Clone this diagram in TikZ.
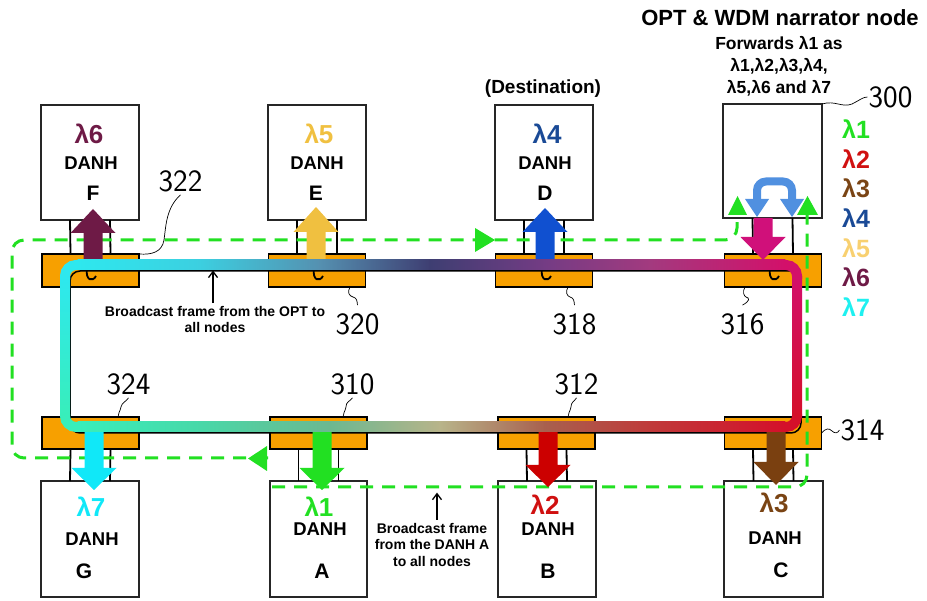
\documentclass[tikz,border=0pt]{standalone}
\usepackage{fontspec}
\setmainfont{Liberation Sans}
\usetikzlibrary{calc,arrows.meta}
\definecolor{orng}{HTML}{F7A000}
\definecolor{lamA}{HTML}{22E022}
\definecolor{lamB}{HTML}{D01010}
\definecolor{lamC}{HTML}{7A4414}
\definecolor{lamD}{HTML}{1A4A96}
\definecolor{lamE}{HTML}{F8D070}
\definecolor{lamF}{HTML}{6E1A46}
\definecolor{lamG}{HTML}{1EF0F0}
\definecolor{arrF}{HTML}{6E1A46}
\definecolor{arrE}{HTML}{F0C040}
\definecolor{arrD}{HTML}{1050D0}
\definecolor{arrM}{HTML}{D0107A}
\definecolor{arrG}{HTML}{10E8F8}
\definecolor{arrA}{HTML}{22E022}
\definecolor{arrB}{HTML}{CC0000}
\definecolor{arrC}{HTML}{7A4010}
\definecolor{bridge}{HTML}{5090E0}
\definecolor{bT0}{HTML}{2EE8EE}
\definecolor{bT1}{HTML}{3CCFE0}
\definecolor{bT2}{HTML}{5590B0}
\definecolor{bT3}{HTML}{3E3E72}
\definecolor{bT4}{HTML}{743C84}
\definecolor{bT5}{HTML}{A33A7F}
\definecolor{bT6}{HTML}{D3106A}
\definecolor{bR1}{HTML}{D4102A}
\definecolor{bB1}{HTML}{C03A3A}
\definecolor{bB2}{HTML}{A8604E}
\definecolor{bB3}{HTML}{B8B48A}
\definecolor{bB4}{HTML}{6CB890}
\definecolor{bB5}{HTML}{48D8A8}
\definecolor{bB6}{HTML}{38EEBB}
\newcommand{\blockarrow}[5]{\fill[#5] (#1-9.5,#2) -- (#1-9.5,#3) -- (#1-22.5,#3) -- (#1,#4) -- (#1+22.5,#3) -- (#1+9.5,#3) -- (#1+9.5,#2) -- cycle;}
\begin{document}
\begin{tikzpicture}[x=1pt,y=-1pt,
  box/.style={draw=black!85, line width=2.2pt, fill=white, minimum width=98pt, minimum height=115pt, inner sep=0pt, outer sep=0pt},
  coup/.style={draw=black, line width=1.3pt, fill=orng, minimum width=97pt, minimum height=33pt, inner sep=0pt, outer sep=0pt},
  leg/.style={black, line width=1.8pt},
  gdash/.style={draw=lamA, line width=3pt, dash pattern=on 13pt off 9pt, rounded corners=12pt},
  lbl/.style={font=\bfseries\fontsize{18.5}{20}\selectfont, inner sep=0pt},
  big/.style={font=\bfseries\fontsize{21}{22}\selectfont, inner sep=0pt},
  lam/.style={font=\bfseries\fontsize{26}{27}\selectfont, inner sep=0pt},
  num/.style={font=\sffamily\fontsize{31}{31}\selectfont, inner sep=0pt},
  lead/.style={black, line width=0.7pt},
  note/.style={font=\bfseries\fontsize{14}{16}\selectfont, inner sep=0pt, align=center}]
\useasboundingbox (0,0) rectangle (927,601);
% couplers
\node[coup] (Fc) at (90.5,270.5) {};
\node[coup] (Ec) at (317,270.5) {};
\node[coup] (Dc) at (544,270.5) {};
\node[coup] (C316) at (773,270.5) {};
\node[coup, minimum height=32pt] (Gc) at (90.5,433) {};
\node[coup, minimum height=32pt] (Ac) at (318.5,433) {};
\node[coup, minimum height=32pt] (Bc) at (546.5,433) {};
\node[coup, minimum height=32pt] (C314) at (773,433) {};
% boxes
\node[box] (F) at (90,162.5) {};
\node[box] (E) at (317,162.5) {};
\node[box] (D) at (544,162.5) {};
\node[box, minimum width=99pt, minimum height=114pt] (N300) at (772.5,161) {};
\node[box, minimum height=116pt] (G) at (90,539) {};
\node[box, minimum width=97pt, minimum height=116pt] (A) at (318.5,539) {};
\node[box, minimum height=116pt] (B) at (547,539) {};
\node[box, minimum width=99pt, minimum height=116pt] (C) at (773.5,539) {};
% legs
\foreach \b/\c in {F/Fc,E/Ec,D/Dc,N300/C316}{
  \draw[leg] ([xshift=-20pt]\b.south) -- ([xshift=-20pt]\c.north);
  \draw[leg] ([xshift=20pt]\b.south) -- ([xshift=20pt]\c.north);}
\foreach \b/\c in {G/Gc,A/Ac,B/Bc,C/C314}{
  \draw[leg] ([xshift=-20pt]\c.south) -- ([xshift=-20pt]\b.north);
  \draw[leg] ([xshift=20pt]\c.south) -- ([xshift=20pt]\b.north);}
% coupler marks
\foreach \cx in {91,318,546,774}{
  \draw[black, line width=1.8pt] (\cx-4,268) .. controls (\cx-6,281) and (\cx+2,282) .. (\cx+5,276);}
% black ring line
\draw[black, line width=1.5pt, rounded corners=10pt] (70,271) rectangle (801,433);
% green dashed paths
\draw[gdash] (268,458) -- (12,458) -- (12,240) -- (737,240) -- (737,214);
\draw[gdash] (272,487) -- (807,487) -- (807,214);
\fill[lamA] (267,446) -- (267,471) -- (248,458.5) -- cycle;
\fill[lamA] (475,228) -- (475,252) -- (495,240) -- cycle;
% block arrows
\blockarrow{93}{262}{233}{209}{arrF}
\blockarrow{316}{262}{232}{207}{arrE}
\blockarrow{545}{262}{232}{208}{arrD}
\blockarrow{763}{218}{237}{260}{arrM}
\blockarrow{94}{430}{468}{490}{arrG}
\blockarrow{322}{430}{468}{490}{arrA}
\blockarrow{548}{430}{465}{487}{arrB}
\blockarrow{776}{430}{462}{485}{arrC}
% gradient band
\foreach \xa/\xb/\ca/\cb in {78/200/bT0/bT1,200/320/bT1/bT2,320/430/bT2/bT3,430/545/bT3/bT4,545/650/bT4/bT5,650/785/bT5/bT6}{
  \shade[left color=\ca, right color=\cb] (\xa-0.4,260) rectangle (\xb+0.4,270);}
\foreach \xa/\xb/\ca/\cb in {78/200/bB6/bB5,200/330/bB5/bB4,330/440/bB4/bB3,440/545/bB3/bB2,545/650/bB2/bB1,650/785/bB1/bR1}{
  \shade[left color=\ca, right color=\cb] (\xa-0.4,422) rectangle (\xb+0.4,432);}
\shade[top color=bT6, bottom color=bR1] (792,277) rectangle (802,416);
\shade[top color=bT0, bottom color=bB6] (60,277) rectangle (70,416);
\draw[line width=10pt, bT0, rounded corners=11pt] (65,279) -- (65,265) -- (79,265);
\draw[line width=10pt, bT6, rounded corners=11pt] (784,265) -- (797,265) -- (797,279);
\draw[line width=10pt, bR1, rounded corners=11pt] (797,414) -- (797,427) -- (784,427);
\draw[line width=10pt, bB6, rounded corners=11pt] (79,427) -- (65,427) -- (65,414);
% bridge inside 300
\draw[bridge, line width=8pt, rounded corners=9pt] (757,201) -- (757,181.5) -- (792,181.5) -- (792,201);
\fill[bridge] (745,199) -- (769,199) -- (757,217) -- cycle;
\fill[bridge] (780,199) -- (804,199) -- (792,217) -- cycle;
\fill[lamA] (728,215) -- (747,215) -- (737.5,196) -- cycle;
\fill[lamA] (797,215) -- (818,215) -- (807.5,196) -- cycle;
% box texts
\node[lam, text=lamF] (tF1) at (89,134) {λ6};
\node[lbl] (tF2) at (91,163) {DANH};
\node[big] (tF3) at (93,193) {F};
\node[lam, text=arrE] (tE1) at (319,134) {λ5};
\node[lbl] (tE2) at (317,163) {DANH};
\node[big] (tE3) at (316,193) {E};
\node[lam, text=lamD] (tD1) at (547,134) {λ4};
\node[lbl] (tD2) at (545,163) {DANH};
\node[big] (tD3) at (545,193) {D};
\node[font=\bfseries\fontsize{19}{20}\selectfont, inner sep=0pt] (dest) at (543,89) {(Destination)};
\node[lam, text=arrG] (tG1) at (91,507) {λ7};
\node[lbl] (tG2) at (92,539) {DANH};
\node[big] (tG3) at (84,571) {G};
\node[lam, text=arrA] (tA1) at (319,507) {λ1};
\node[lbl] (tA2) at (320,529) {DANH};
\node[big] (tA3) at (322,571) {A};
\node[lam, text=lamB] (tB1) at (545,505) {λ2};
\node[lbl] (tB2) at (548,529) {DANH};
\node[big] (tB3) at (548,571) {B};
\node[lam, text=lamC] (tC1) at (774,503) {λ3};
\node[lbl] (tC2) at (775,538) {DANH};
\node[big] (tC3) at (781,570) {C};
% title
\node[font=\bfseries\fontsize{22}{24}\selectfont, inner sep=0pt] (title) at (780,18) {OPT \& WDM narrator node};
\node[font=\bfseries\fontsize{17.5}{22}\selectfont, inner sep=0pt, align=center] (fw) at (779,66) {Forwards λ1 as\\λ1,λ2,λ3,λ4,\\λ5,λ6 and λ7};
% legend
\foreach \t/\c [count=\i from 0] in {λ1/lamA,λ2/lamB,λ3/lamC,λ4/lamD,λ5/lamE,λ6/lamF,λ7/lamG}{
  \node[lam, font=\bfseries\fontsize{25}{26}\selectfont, text=\c, anchor=west] (leg\i) at (842,129+29.7*\i) {\t};}
% notes
\node[note] (n1) at (215,319.5) {Broadcast frame from the OPT to\\all nodes};
\draw[black, line width=1.3pt, -{Straight Barb[length=6pt,width=9pt]}] ([xshift=-2pt,yshift=3pt]n1.north) -- ([xshift=-2pt]n1.north |- Fc.center);
\node[note, font=\bfseries\fontsize{14}{16.5}\selectfont] (n2) at (432,544.5) {Broadcast frame\\from the DANH A\\to all nodes};
\draw[black, line width=1.3pt, -{Straight Barb[length=6pt,width=9pt]}] ([xshift=5pt,yshift=3pt]n2.north) -- ++(0,-27);
% reference numbers
\node[num] (l322) at (180.5,181) {322};
\node[num] (l320) at (357.5,324) {320};
\node[num] (l318) at (574.5,324) {318};
\node[num] (l316) at (742.5,324) {316};
\node[num] (l324) at (128.5,384) {324};
\node[num] (l310) at (352.5,384) {310};
\node[num] (l312) at (576.5,384) {312};
\node[num] (l314) at (862.5,430) {314};
\node[num] (l300) at (890.5,97) {300};
\draw[lead] ([yshift=-3pt]l322.south) .. controls (166,208) and (166,226) .. (164,240) .. controls (162,252) and (152,255) .. (Fc.north east);
\draw[lead] ([xshift=33pt]Ec.south) .. controls (347,292) and (349,296) .. (353,297) .. controls (357,298) and (357,301) .. ([yshift=8pt]l320.north);
\draw[lead] ([xshift=24pt]Dc.south) .. controls (565,292) and (567,296) .. (570,297) .. controls (574,298) and (574,301) .. ([yshift=8pt]l318.north);
\draw[lead] ([xshift=-28pt]C316.south) .. controls (742,292) and (744,296) .. (746,297) .. controls (750,298) and (750,301) .. ([yshift=8pt]l316.north);
\draw[lead] ([yshift=-3pt]l324.south) .. controls (126,402) and (122,402) .. (121,407) .. controls (120,412) and (118,413) .. ([xshift=27.5pt]Gc.north);
\draw[lead] ([yshift=-3pt]l310.south) .. controls (349,402) and (346,402) .. (346,407) .. controls (345,412) and (343,413) .. ([xshift=24.5pt]Ac.north);
\draw[lead] ([yshift=-3pt]l312.south) .. controls (574,402) and (571,402) .. (571,407) .. controls (570,412) and (568,413) .. ([xshift=21.5pt]Bc.north);
\draw[lead] (C314.east) .. controls (826,428) and (829,428) .. (832,431) .. controls (835,434) and (838,433) .. ([xshift=-1pt]l314.west);
\draw[lead] (N300.north east) .. controls (835,100) and (842,108) .. (852,104) .. controls (860,100) and (863,97) .. ([xshift=-1pt]l300.west);
\end{tikzpicture}
\end{document}
